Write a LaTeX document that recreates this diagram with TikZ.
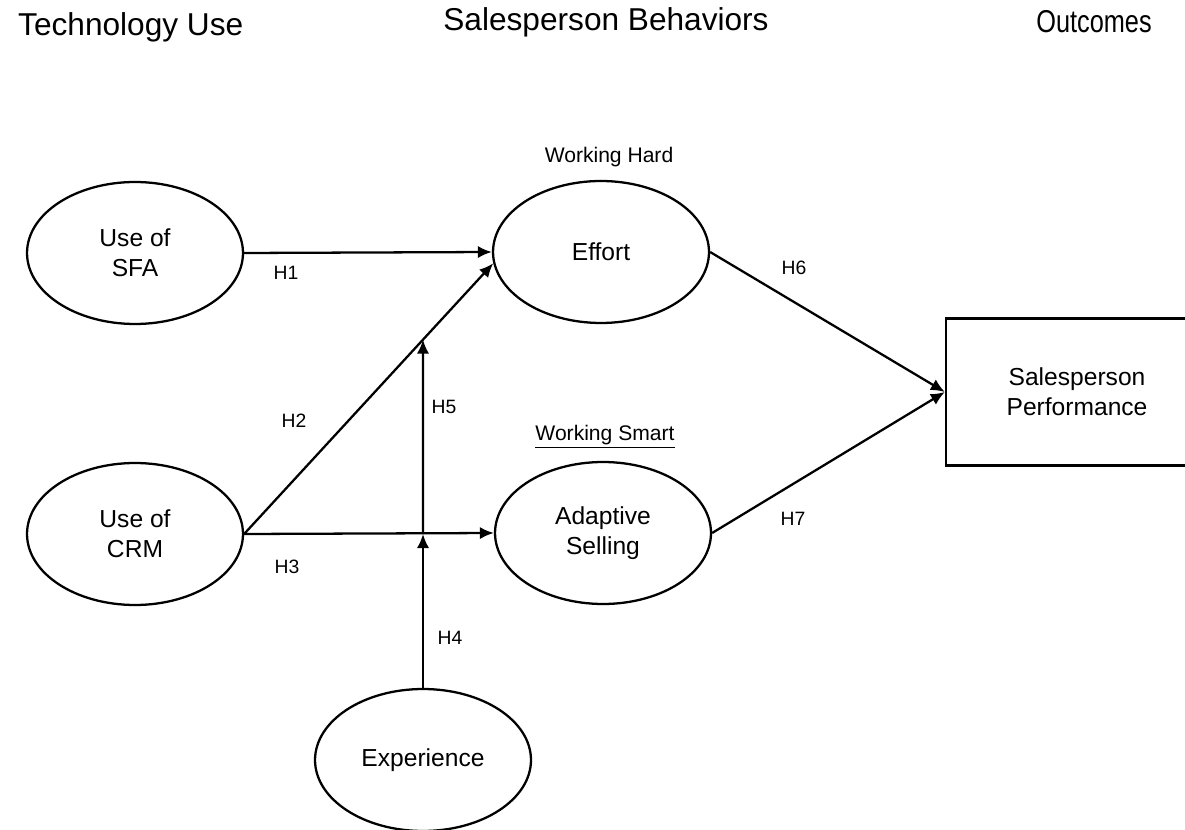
\documentclass[tikz,border=0pt]{standalone}
\usepackage{fontspec}
\setmainfont{Liberation Sans}
\usetikzlibrary{arrows.meta,shapes.geometric}

\tikzset{
  construct/.style={ellipse,draw,line width=1.3pt,minimum width=4.32cm,minimum height=2.84cm,inner sep=0pt,align=center,font=\fontsize{14}{17}\selectfont},
  outcome/.style={rectangle,draw,line width=1.3pt,minimum width=5.24cm,minimum height=2.94cm,align=center,font=\fontsize{14}{17}\selectfont},
  hyp/.style={line width=1.3pt,-{Latex[length=8pt,width=7pt]}},
  hlabel/.style={font=\fontsize{11}{13}\selectfont},
  heading/.style={font=\fontsize{18}{21}\selectfont},
  tag/.style={font=\fontsize{12}{14}\selectfont}
}

\begin{document}
\begin{tikzpicture}[x=0.02cm,y=-0.02cm]
        \useasboundingbox (0,0) rectangle (1185,830);
        \clip (0,0) rectangle (1185,830);

        % column headings
        \node (tech) [heading,anchor=west] at (12,27) {Technology Use};
        \node (beh) [heading] at (606,22) {Salesperson Behaviors};
        \node (out) [heading] at (1094,22) {\scalebox{0.8}[1]{Outcomes}};

        % constructs
        \node (sfa) at (135,253) [construct] {Use of\\SFA};
        \node (crm) at (135,534) [construct] {Use of\\CRM};
        \node (effort) at (601,252) [construct] {Effort};
        \node (adapt) at (603,533) [construct] {Adaptive\\Selling};
        \node (exper) at (423,760) [construct] {Experience};
        \node (perf) at (1077,392) [outcome] {Salesperson\\Performance};

        \node (hard) at (609,157) [tag] {Working Hard};
        \node (smart) at (605,437) [tag] {\underline{Working Smart}};

        % crossing points of the moderator line
        \coordinate (m3) at (exper.north |- crm.east);
        \coordinate (m2) at (intersection of crm.east--effort.186 and exper.north--m3);

        \draw [hyp] (sfa.east) -- (effort.west);
        \draw [hyp] (crm.east) -- (effort.186);
        \draw [hyp] (crm.east) -- (adapt.west);
        \draw [hyp] (exper.north) -- (m3);
        \draw [hyp] (m3) -- (m2);
        \draw [hyp] (effort.east) -- (perf.west);
        \draw [hyp] (adapt.east) -- (perf.west);

        \node (h1) [hlabel] at (286,273) {H1};
        \node (h2) [hlabel] at (294,421) {H2};
        \node (h3) [hlabel] at (287,567) {H3};
        \node (h4) [hlabel] at (450,638) {H4};
        \node (h5) [hlabel] at (444,407) {H5};
        \node (h6) [hlabel] at (794,268) {H6};
        \node (h7) [hlabel] at (793,519) {H7};
\end{tikzpicture}
\end{document}
